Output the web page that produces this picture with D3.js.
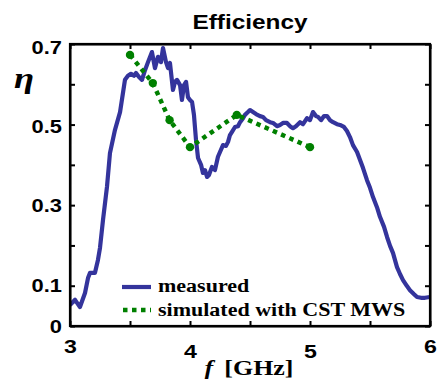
<!DOCTYPE html>
<html><head><meta charset="utf-8">
<script src="https://cdn.jsdelivr.net/npm/d3@7/dist/d3.min.js"></script>
<style>
body{margin:0;background:#fff;}
svg{display:block;}
</style></head>
<body><svg id="c" width="441" height="379"></svg>
<script>
// ---- data ----
const measuredF = [3.000,3.042,3.083,3.125,3.150,3.167,3.208,3.233,3.250,3.275,3.308,3.333,3.375,3.417,3.458,3.483,3.508,3.533,3.550,3.575,3.600,3.625,3.650,3.683,3.708,3.733,3.758,3.775,3.800,3.817,3.833,3.858,3.875,3.892,3.917,3.933,3.950,3.967,3.983,4.000,4.017,4.033,4.050,4.067,4.092,4.108,4.125,4.142,4.158,4.183,4.208,4.233,4.250,4.275,4.300,4.317,4.333,4.350,4.375,4.400,4.417,4.442,4.458,4.483,4.500,4.525,4.550,4.583,4.608,4.633,4.667,4.692,4.725,4.750,4.775,4.808,4.833,4.858,4.883,4.917,4.942,4.975,5.000,5.025,5.050,5.067,5.092,5.117,5.142,5.167,5.192,5.225,5.250,5.283,5.308,5.333,5.358,5.392,5.417,5.442,5.475,5.500,5.525,5.558,5.583,5.617,5.642,5.667,5.692,5.725,5.750,5.775,5.808,5.833,5.867,5.892,5.925,5.958,6.000];
const measuredEta = [0.052,0.065,0.047,0.082,0.119,0.132,0.132,0.164,0.194,0.263,0.345,0.429,0.487,0.531,0.611,0.621,0.626,0.621,0.628,0.618,0.611,0.635,0.655,0.680,0.640,0.668,0.655,0.690,0.655,0.640,0.653,0.586,0.606,0.611,0.598,0.561,0.598,0.606,0.568,0.561,0.556,0.524,0.462,0.417,0.400,0.380,0.387,0.370,0.375,0.395,0.387,0.420,0.432,0.449,0.447,0.457,0.474,0.482,0.494,0.496,0.506,0.516,0.524,0.531,0.536,0.531,0.526,0.521,0.519,0.511,0.506,0.504,0.496,0.499,0.504,0.504,0.496,0.491,0.496,0.506,0.501,0.516,0.511,0.531,0.521,0.519,0.511,0.521,0.521,0.511,0.506,0.501,0.499,0.494,0.484,0.469,0.449,0.432,0.412,0.392,0.362,0.343,0.320,0.295,0.271,0.246,0.221,0.199,0.181,0.146,0.129,0.114,0.099,0.089,0.079,0.072,0.070,0.070,0.072];
const simF = [3.50,3.69,3.83,4.00,4.39,5.00];
const simEta = [0.673,0.603,0.511,0.444,0.524,0.444];
const xTicks = [3,3.5,4,4.5,5,5.5,6];
const xLabels = {3:"3",4:"4",5:"5",6:"6"};
const yTicks = [0,0.1,0.2,0.3,0.4,0.5,0.6,0.7];
const yLabels = {0:"0",0.1:"0.1",0.3:"0.3",0.5:"0.5",0.7:"0.7"};
const legendLabels = ["measured","simulated with CST MWS"];
const titleText = "Efficiency";

// ---- layout ----
const L=70,R=430,T=44,B=326, SX=1.22;
const svg=d3.select("#c");
const x=d3.scaleLinear().domain([3,6]).range([L,R]);
const y=d3.scaleLinear().domain([0,0.7]).range([B,T]);
const serif="'Liberation Serif','Times New Roman',serif";
const sans="'Liberation Sans',Arial,sans-serif";
const blue="#34349c", green="#008000";

function stretch(sel){
  sel.each(function(){
    const t=d3.select(this);
    const tx=+t.attr("data-x")||0, ty=+t.attr("data-y")||0;
    const sx=+t.attr("data-sx")||SX;
    t.attr("transform",`translate(${tx},${ty}) scale(${sx},1)`);
  });
}

svg.append("clipPath").attr("id","clip").append("rect").attr("x",L).attr("y",T-6).attr("width",R-L).attr("height",B-T+6);
const g=svg.append("g").attr("clip-path","url(#clip)");
const mData=measuredF.map((f,i)=>[f,measuredEta[i]]);
const sData=simF.map((f,i)=>[f,simEta[i]]);
const line=d3.line().x(d=>x(d[0])).y(d=>y(d[1]));
g.append("path").attr("d",line(mData)).attr("fill","none").attr("stroke",blue).attr("stroke-width",4.2).attr("stroke-linejoin","round");
g.append("path").attr("d",line(sData)).attr("fill","none").attr("stroke",green).attr("stroke-width",4.5).attr("stroke-dasharray","4.5,4.5");
g.selectAll("circle").data(sData).join("circle").attr("cx",d=>x(d[0])).attr("cy",d=>y(d[1])).attr("r",4.2).attr("fill",green);

const ax=svg.append("g").attr("font-family",serif);
const axB=ax.append("g").attr("transform",`translate(0,${B})`).call(d3.axisBottom(x).tickValues(xTicks).tickSizeInner(-5).tickSizeOuter(0).tickFormat(d=>xLabels[d]||""));
ax.append("g").attr("transform",`translate(0,${T})`).call(d3.axisTop(x).tickValues(xTicks).tickSizeInner(-5).tickSizeOuter(0).tickFormat(""));
const axL=ax.append("g").attr("transform",`translate(${L},0)`).call(d3.axisLeft(y).tickValues(yTicks).tickSizeInner(-5).tickSizeOuter(0).tickFormat(d=>yLabels[Math.round(d*10)/10]||""));
ax.append("g").attr("transform",`translate(${R},0)`).call(d3.axisRight(y).tickValues(yTicks).tickSizeInner(-5).tickSizeOuter(0).tickFormat(""));
ax.selectAll(".domain").attr("stroke","#000").attr("stroke-width",2);
ax.selectAll(".tick line").attr("stroke","#000").attr("stroke-width",2);
svg.append("rect").attr("x",L).attr("y",T).attr("width",R-L).attr("height",B-T).attr("fill","none").attr("stroke","#000").attr("stroke-width",2.2);

axB.selectAll(".tick text").attr("font-size",19).attr("font-weight","bold").attr("fill","#000")
  .attr("x",null).attr("dy",null).attr("y",0)
  .attr("data-x",0).attr("data-y",d=>(d===4||d===5)?32:27).call(stretch);
axL.selectAll(".tick text").attr("font-size",19).attr("font-weight","bold").attr("fill","#000")
  .attr("x",0).attr("dy","0.33em").attr("text-anchor","end")
  .attr("data-x",-8).attr("data-y",d=>d>0.65?3:(d>0.45?2:0)).attr("data-sx",1.15).call(stretch);

svg.append("text").text(titleText).attr("font-family",sans).attr("font-weight","bold").attr("font-size",21)
  .attr("text-anchor","middle").attr("data-x",250).attr("data-y",29).attr("data-sx",1.16).call(stretch);
svg.append("text").text("η").attr("font-family",serif).attr("font-style","italic").attr("font-weight","bold").attr("font-size",30)
  .attr("text-anchor","middle").attr("data-x",24).attr("data-y",88).call(stretch);
const xl=svg.append("text").attr("font-family",serif).attr("font-weight","bold").attr("font-size",22)
  .attr("text-anchor","middle").attr("data-x",249).attr("data-y",375).attr("data-sx",1.18);
xl.append("tspan").attr("font-style","italic").text("f");
xl.append("tspan").attr("dx",4).text(" [GHz]");
xl.call(stretch);

const lg=svg.append("g");
lg.append("line").attr("x1",122).attr("x2",151).attr("y1",287).attr("y2",287).attr("stroke",blue).attr("stroke-width",4.2);
lg.append("line").attr("x1",123).attr("x2",151).attr("y1",310).attr("y2",310).attr("stroke",green).attr("stroke-width",4.5).attr("stroke-dasharray","4.5,4.5");
lg.selectAll("text").data(legendLabels).join("text").text(d=>d)
  .attr("font-family",serif).attr("font-weight","bold").attr("font-size",18.5).attr("fill","#000")
  .attr("data-x",158).attr("data-y",(d,i)=>292+i*24).attr("data-sx",1.19).call(stretch);
</script></body></html>
